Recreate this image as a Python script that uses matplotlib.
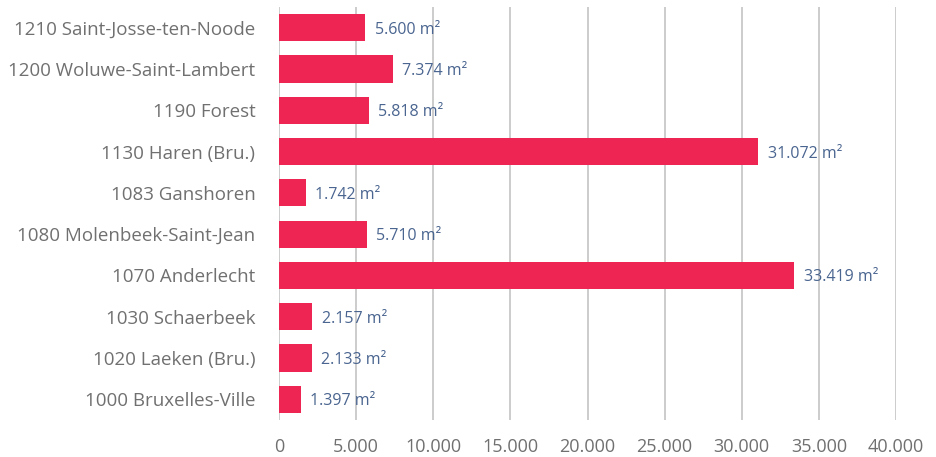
import matplotlib
matplotlib.use('Agg')
import matplotlib.pyplot as plt
from matplotlib.ticker import FuncFormatter

communes = [
    "1000 Bruxelles-Ville",
    "1020 Laeken (Bru.)",
    "1030 Schaerbeek",
    "1070 Anderlecht",
    "1080 Molenbeek-Saint-Jean",
    "1083 Ganshoren",
    "1130 Haren (Bru.)",
    "1190 Forest",
    "1200 Woluwe-Saint-Lambert",
    "1210 Saint-Josse-ten-Noode",
]
surface = [1397, 2133, 2157, 33419, 5710, 1742, 31072, 5818, 7374, 5600]
ticks = [0, 5000, 10000, 15000, 20000, 25000, 30000, 35000, 40000]


def fmt(v):
    return "{:,}".format(int(v)).replace(",", ".")


plt.rcParams['font.family'] = ['Open Sans', 'DejaVu Sans']

fig = plt.figure(figsize=(9.37, 4.57), dpi=100)
ax = fig.add_axes([279 / 937, 1 - 420 / 457, 617 / 937, 413 / 457])

y = range(len(communes))
ax.barh(y, surface, height=0.66, color="#ee2452", zorder=3)
for i, v in enumerate(surface):
    ax.text(v + 600, i, fmt(v) + " m²", va="center_baseline", ha="left",
            fontsize=11.5, color="#4a6590", zorder=4)

ax.set_xlim(0, 40000)
ax.set_ylim(-0.5, len(communes) - 0.5)
ax.set_xticks(ticks)
ax.xaxis.set_major_formatter(FuncFormatter(lambda v, p: fmt(v)))
ax.set_yticks(list(y))
ax.set_yticklabels(communes, fontsize=13.5)
ax.grid(axis="x", color="#c8c8c8", linewidth=1.3, zorder=0)
for s in ax.spines.values():
    s.set_visible(False)
ax.tick_params(length=0, labelcolor="#707070")
ax.tick_params(axis="x", labelsize=13, pad=13)
ax.tick_params(axis="y", pad=17)

fig.savefig("out.png", dpi=100)
plt.close()
